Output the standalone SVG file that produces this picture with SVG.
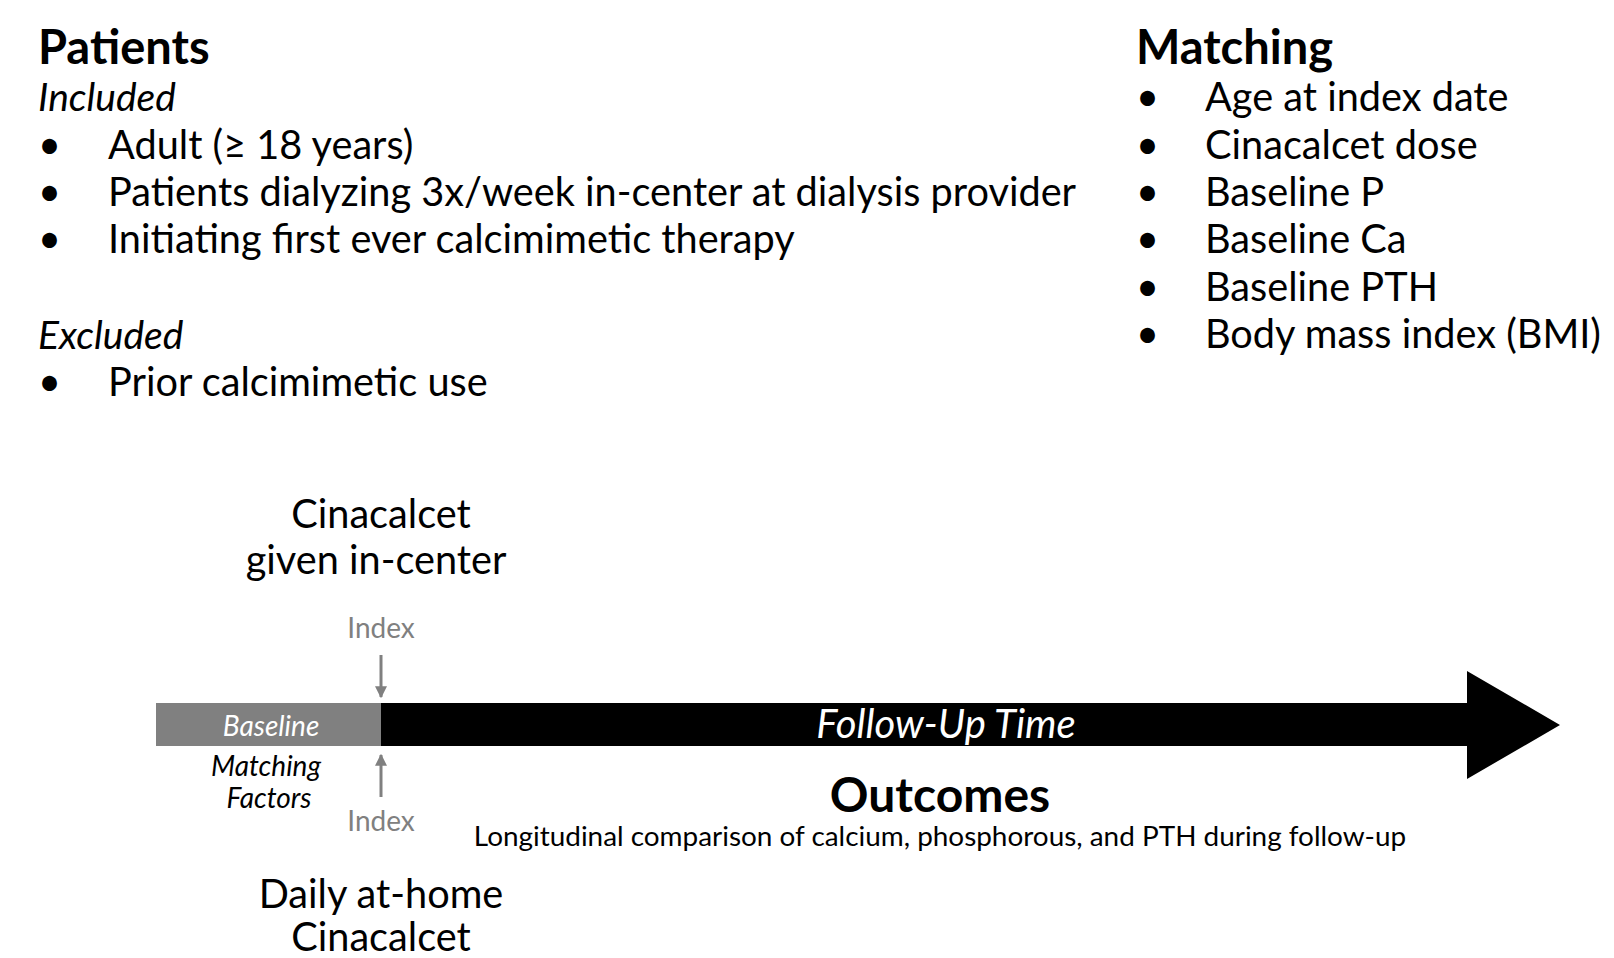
<svg xmlns="http://www.w3.org/2000/svg" width="1614" height="958" viewBox="0 0 1614 958">
<style>
text{font-family:Lato,"Open Sans","Liberation Sans",sans-serif;fill:#000}
.h{font-size:47px;font-weight:700}
.b{font-size:39.7px}
.i{font-size:39px;font-style:italic}
.c{text-anchor:middle}
.idx{font-size:28px;fill:#808080;text-anchor:middle}
.sm{font-size:28px;font-style:italic;text-anchor:middle}
.ar{stroke:#808080;stroke-width:3;fill:none}
</style>
<defs>
<marker id="ah" viewBox="0 0 10 10" refX="9" refY="5" markerWidth="4" markerHeight="4" orient="auto" markerUnits="strokeWidth">
<path d="M0,0 L10,5 L0,10 z" fill="#808080"/>
</marker>
</defs>
<rect width="1614" height="958" fill="#fff"/>
<g id="patients">
<text class="h" x="38" y="64">Patients</text>
<text class="i" x="38" y="111">Included</text>
<text class="b" x="38" y="159">•</text>
<text class="b" x="108" y="159">Adult (≥ 18 years)</text>
<text class="b" x="38" y="206">•</text>
<text class="b" x="108" y="206">Patients dialyzing 3x/week in-center at dialysis provider</text>
<text class="b" x="38" y="253">•</text>
<text class="b" x="108" y="253">Initiating first ever calcimimetic therapy</text>
<text class="i" x="38" y="349">Excluded</text>
<text class="b" x="38" y="396">•</text>
<text class="b" x="108" y="396">Prior calcimimetic use</text>
</g>
<g id="matching">
<text class="h" x="1136" y="64">Matching</text>
<text class="b" x="1136" y="111">•</text>
<text class="b" x="1205" y="111">Age at index date</text>
<text class="b" x="1136" y="159">•</text>
<text class="b" x="1205" y="159">Cinacalcet dose</text>
<text class="b" x="1136" y="206">•</text>
<text class="b" x="1205" y="206">Baseline P</text>
<text class="b" x="1136" y="253">•</text>
<text class="b" x="1205" y="253">Baseline Ca</text>
<text class="b" x="1136" y="301">•</text>
<text class="b" x="1205" y="301">Baseline PTH</text>
<text class="b" x="1136" y="348">•</text>
<text class="b" x="1205" y="348">Body mass index (BMI)</text>
</g>
<g id="incenter">
<text class="b c"><tspan x="381" y="528">Cinacalcet</tspan><tspan x="376" y="574">given in-center</tspan></text>
</g>
<g id="timeline">
<rect x="156" y="703" width="225" height="43" fill="#808080"/>
<path d="M381,703 H1467 V671 L1560,725 L1467,779 V746 H381 Z" fill="#000"/>
<text class="sm" x="271" y="736" style="fill:#fff">Baseline</text>
<text x="946" y="738" style="font-size:40px;font-style:italic;fill:#fff;text-anchor:middle">Follow-Up Time</text>
</g>
<g id="index-top"><text class="idx" x="381" y="638">Index</text></g>
<g id="index-bottom"><text class="idx" x="381" y="831">Index</text></g>
<g id="matching-factors">
<text class="sm"><tspan x="266" y="776">Matching</tspan><tspan x="269" y="808">Factors</tspan></text>
</g>
<g id="outcomes">
<text x="940" y="812" style="font-size:48px;font-weight:700;text-anchor:middle">Outcomes</text>
<text x="940" y="846" style="font-size:27.9px;text-anchor:middle">Longitudinal comparison of calcium, phosphorous, and PTH during follow-up</text>
</g>
<g id="athome">
<text class="b c"><tspan x="381" y="908">Daily at-home</tspan><tspan x="381" y="951">Cinacalcet</tspan></text>
</g>
<g id="connectors">
<line class="ar" x1="381" y1="655" x2="381" y2="697" marker-end="url(#ah)"/>
<line class="ar" x1="381" y1="797" x2="381" y2="755" marker-end="url(#ah)"/>
</g>
</svg>
